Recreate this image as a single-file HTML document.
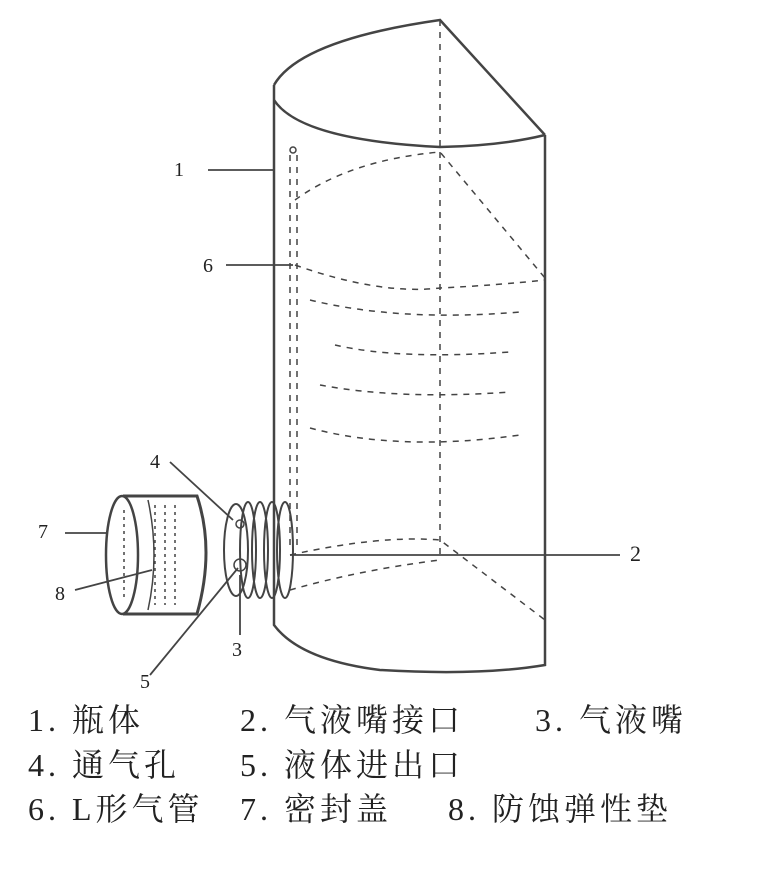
<!DOCTYPE html>
<html><head><meta charset="utf-8"><style>
body{margin:0;background:#fff;width:770px;height:877px;overflow:hidden;position:relative;font-family:"Liberation Serif","Noto Serif CJK SC",serif;}
.t{position:absolute;font-size:20px;color:#222;white-space:pre;line-height:1;}
.l{position:absolute;font-size:32px;color:#222;white-space:pre;line-height:1;letter-spacing:4px;}
</style></head><body>
<svg width="770" height="877" style="position:absolute;left:0;top:0" fill="none" stroke="#444" stroke-width="2.5">
<path d="M274 85 Q300 40 440 20 L545 135"/>
<path d="M274 100 Q300 140 440 147 Q500 146 545 135"/>
<path d="M274 85 L274 625 Q300 660 380 670 Q480 676 545 665 L545 135"/>
<g stroke-dasharray="6 6" stroke-width="1.5">
<path d="M440 20 L440 555"/>
<path d="M295 200 Q350 160 440 152 L545 278"/>
<path d="M295 265 Q380 295 440 288 Q500 285 545 280"/>
<path d="M310 300 Q400 322 520 312"/>
<path d="M335 345 Q400 360 510 352"/>
<path d="M320 385 Q400 400 510 392"/>
<path d="M310 428 Q400 452 520 435"/>
<path d="M290 555 Q380 535 440 540 L545 620"/>
<path d="M290 590 Q360 570 440 560"/>
<path d="M290 155 L290 545 M297 155 L297 545"/>
</g>
<circle cx="293" cy="150" r="3" stroke-width="1.5"/>
<ellipse cx="285" cy="550" rx="8" ry="48" stroke-width="2"/>
<ellipse cx="272" cy="550" rx="8" ry="48" stroke-width="2"/>
<ellipse cx="260" cy="550" rx="8" ry="48" stroke-width="2"/>
<ellipse cx="248" cy="550" rx="8" ry="48" stroke-width="2"/>
<ellipse cx="236" cy="550" rx="12" ry="46" stroke-width="2"/>
<circle cx="240" cy="524" r="4" stroke-width="1.5"/>
<circle cx="240" cy="565" r="6" stroke-width="1.5"/>
<path d="M123 496 L197 496 Q215 550 197 614 L123 614" stroke-width="3"/>
<ellipse cx="122" cy="555" rx="16" ry="59" stroke-width="2.5"/>
<path d="M148 500 Q160 555 148 610" stroke-width="1.5"/>
<g stroke-dasharray="3 4" stroke-width="1.5"><path d="M124 510 L124 600 M155 505 L155 605 M165 505 L165 605 M175 505 L175 605"/></g>
<g stroke-width="1.8">
<path d="M208 170 L274 170"/>
<path d="M226 265 L293 265"/>
<path d="M170 462 L233 520"/>
<path d="M65 533 L107 533"/>
<path d="M75 590 L152 570"/>
<path d="M290 555 L620 555"/>
<path d="M240 575 L240 635"/>
<path d="M150 675 L238 568"/>
</g>
</svg>
<div class="t" style="left:174px;top:160px">1</div>
<div class="t" style="left:203px;top:256px">6</div>
<div class="t" style="left:150px;top:452px">4</div>
<div class="t" style="left:38px;top:522px">7</div>
<div class="t" style="left:55px;top:584px">8</div>
<div class="t" style="left:630px;top:543px;font-size:22px">2</div>
<div class="t" style="left:232px;top:640px">3</div>
<div class="t" style="left:140px;top:672px">5</div>
<div class="l" style="left:28px;top:704px">1. 瓶体</div>
<div class="l" style="left:240px;top:704px">2. 气液嘴接口</div>
<div class="l" style="left:535px;top:704px">3. 气液嘴</div>
<div class="l" style="left:28px;top:749px">4. 通气孔</div>
<div class="l" style="left:240px;top:749px">5. 液体进出口</div>
<div class="l" style="left:28px;top:793px">6. L形气管</div>
<div class="l" style="left:240px;top:793px">7. 密封盖</div>
<div class="l" style="left:448px;top:793px">8. 防蚀弹性垫</div>
</body></html>
